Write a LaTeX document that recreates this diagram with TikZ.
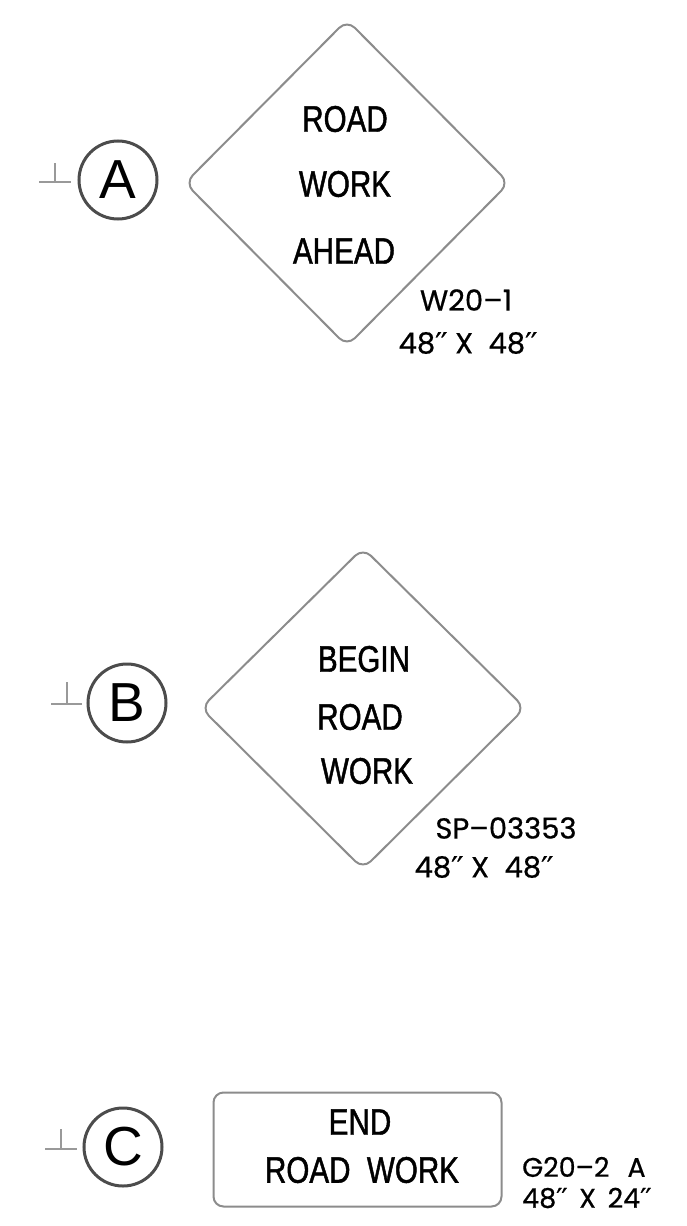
\documentclass[tikz,border=0pt]{standalone}
\usepackage{fontspec}
\setmainfont{Liberation Sans}
\newfontfamily\signfont[FakeStretch=0.8,FakeBold=1.2]{Liberation Sans}
\newfontfamily\labfont[FakeBold=0.6]{Poppins}
\newfontfamily\prmfont[FakeBold=0.6]{DejaVu Sans}
\newcommand{\dprm}{{\prmfont\char"2032\kern-1pt\char"2032}}
\begin{document}
\begin{tikzpicture}[x=1pt,y=-1pt,
  signedge/.style={draw=black!45, line width=2pt, rounded corners=11pt},
  signtext/.style={font=\signfont\fontsize{37}{37}\selectfont, inner sep=0pt, anchor=center},
  labtext/.style={font=\labfont\fontsize{29}{29}\selectfont, inner sep=0pt, anchor=center},
  labsmall/.style={font=\labfont\fontsize{27}{27}\selectfont, inner sep=0pt, anchor=west},
  bubble/.style={circle, draw=black!70, line width=3pt, minimum size=78pt, inner sep=0pt,
    font=\fontsize{55}{55}\selectfont},
  perp/.style={draw=black!40, line width=1.5pt}]
\useasboundingbox (0,0) rectangle (686,1226);

% ---------- A ----------
\node[bubble] (ca) at (118,180) {A};
\coordinate (pa1) at (39,182); \coordinate (pa2) at (71,182);
\coordinate (pa3) at (55,163); \coordinate (pa4) at (55,182);
\draw[perp] (pa1) -- (pa2); \draw[perp] (pa3) -- (pa4);
\draw[signedge] (347,20) -- (509,183) -- (347,346) -- (185,183) -- cycle;
\node[signtext] (a1) at (345,119) {ROAD};
\node[signtext] (a2) at (345,184) {WORK};
\node[signtext] (a3) at (344,251) {AHEAD};
\node[labtext] (a4) at (466,300) {W20–1};
\node[labtext] (a5) at (468,343) {48\dprm\ X\ \ 48\dprm};

% ---------- B ----------
\node[bubble] (cb) at (127,703) {B};
\coordinate (pb1) at (51,704); \coordinate (pb2) at (82,704);
\coordinate (pb3) at (67,682); \coordinate (pb4) at (67,704);
\draw[perp] (pb1) -- (pb2); \draw[perp] (pb3) -- (pb4);
\draw[signedge] (363,548) -- (525,708) -- (363,869) -- (201,708) -- cycle;
\node[signtext] (b1) at (364,659) {BEGIN};
\node[signtext] (b2) at (360,717) {ROAD};
\node[signtext] (b3) at (367,771) {WORK};
\node[labtext] (b4) at (506,828) {SP–03353};
\node[labtext] (b5) at (484,867) {48\dprm\ X\ \ 48\dprm};

% ---------- C ----------
\node[bubble] (cc) at (123,1147) {C};
\coordinate (pc1) at (45,1149); \coordinate (pc2) at (77,1149);
\coordinate (pc3) at (61,1129); \coordinate (pc4) at (61,1149);
\draw[perp] (pc1) -- (pc2); \draw[perp] (pc3) -- (pc4);
\node[draw=black!45, line width=2pt, rounded corners=10pt, minimum width=288pt,
  minimum height=114pt, inner sep=0pt] (cbox) at (357.5,1149.5) {};
\node[signtext] (c1) at (360,1122) {END};
\node[signtext] (c2) at (362,1170) {ROAD\ \ WORK};
\node[labsmall] (c3) at (522,1167) {G20–2\hspace{18pt}A};
\node[labsmall] (c4) at (522,1198) {48\dprm\ \,X\ \,24\dprm};
\end{tikzpicture}
\end{document}
